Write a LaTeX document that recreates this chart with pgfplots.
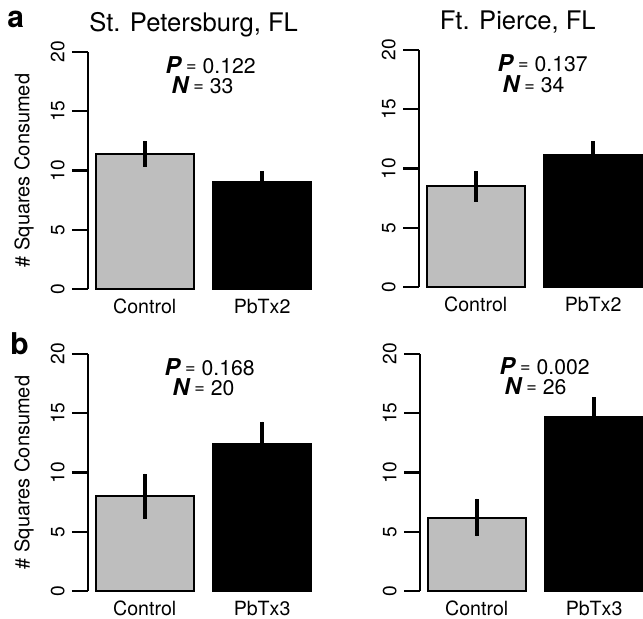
\documentclass[border=0pt]{standalone}
\usepackage{fontspec}
\setmainfont{TeX Gyre Heros}
\usepackage{pgfplots}
\pgfplotsset{compat=1.18}

\definecolor{ctrlgray}{RGB}{190,190,190}

\newcommand{\pval}[2]{{\fontsize{11.6}{12}\selectfont\bfseries\itshape #1}\hspace{2.5pt}\raisebox{0.8pt}{\fontsize{9}{9}\selectfont =}\hspace{3pt}#2}

\tikzset{
  ttl/.style={anchor=base, inner sep=0pt, font=\fontsize{12.8}{14}\selectfont},
  stat/.style={anchor=west, inner sep=0pt, font=\fontsize{10.6}{12}\selectfont},
}

\pgfplotsset{
  panel/.style={
    scale only axis, width=111.5pt, height=118.5pt,
    xmin=0.12, xmax=2.4, ymin=0, ymax=20,
    axis y line*=left, axis x line*=bottom,
    axis line style={line width=1.1pt},
    x axis line style={draw=none},
    ytick={0,5,10,15,20},
    xtick={0.7,1.9},
    tick align=outside,
    major tick length=8pt,
    ytick style={line width=1.1pt, black},
    xtick style={draw=none},
    yticklabel style={rotate=90, anchor=south, inner sep=3.5pt,
      font=\fontsize{9.6}{11}\selectfont},
    xticklabel style={font=\fontsize{9.8}{11}\selectfont, yshift=6.5pt},
    /pgf/number format/assume math mode=true,
    ylabel style={at={(axis description cs:-0.287,0.5)}, anchor=center,
      font=\fontsize{10}{12}\selectfont},
    clip=false,
    bar width=1,
  },
  ctrlbar/.style={ybar, bar shift=0pt, fill=ctrlgray, draw=black, line width=1pt,
    error bars/.cd, y dir=both, y explicit, error mark=none,
    error bar style={line width=2pt, black}},
  pbbar/.style={ybar, bar shift=0pt, fill=black, draw=black, line width=1pt,
    error bars/.cd, y dir=both, y explicit, error mark=none,
    error bar style={line width=2pt, black}},
}

\begin{document}
\begin{tikzpicture}
\path[use as bounding box] (-44pt,-14pt) rectangle (277.5pt,295.5pt);

% a: St. Petersburg
\begin{axis}[panel, at={(0pt,151pt)}, xticklabels={Control,PbTx2},
  ylabel={\# Squares Consumed}]
\addplot[ctrlbar] coordinates {(0.7,11.4) +- (0,1.1)};
\addplot[pbbar] coordinates {(1.9,9.0) +- (0,0.95)};
\node[ttl] at ([yshift=10pt]axis cs:1.2,20) {St. Petersburg, FL};
\node[stat] at (axis cs:0.91,18.9) {\pval{P}{0.122}};
\node[stat] at (axis cs:0.97,17.2) {\pval{N}{33}};
\end{axis}

% a: Ft. Pierce
\begin{axis}[panel, at={(165.5pt,152pt)}, xticklabels={Control,PbTx2}]
\addplot[ctrlbar] coordinates {(0.7,8.5) +- (0,1.3)};
\addplot[pbbar] coordinates {(1.9,11.1) +- (0,1.2)};
\node[ttl] at ([yshift=10pt]axis cs:1.13,20) {Ft. Pierce, FL};
\node[stat] at (axis cs:0.92,18.9) {\pval{P}{0.137}};
\node[stat] at (axis cs:0.97,17.1) {\pval{N}{34}};
\end{axis}

% b: St. Petersburg
\begin{axis}[panel, at={(0pt,0pt)}, xticklabels={Control,PbTx3},
  ylabel={\# Squares Consumed}]
\addplot[ctrlbar] coordinates {(0.7,8.0) +- (0,1.9)};
\addplot[pbbar] coordinates {(1.9,12.4) +- (0,1.9)};
\node[stat] at (axis cs:0.90,18.9) {\pval{P}{0.168}};
\node[stat] at (axis cs:0.98,17.2) {\pval{N}{20}};
\end{axis}

% b: Ft. Pierce
\begin{axis}[panel, at={(166pt,0pt)}, xticklabels={Control,PbTx3}]
\addplot[ctrlbar] coordinates {(0.7,6.2) +- (0,1.6)};
\addplot[pbbar] coordinates {(1.9,14.7) +- (0,1.65)};
\node[stat] at (axis cs:0.93,19.0) {\pval{P}{0.002}};
\node[stat] at (axis cs:0.98,17.3) {\pval{N}{26}};
\end{axis}

\node[anchor=base west, inner sep=0pt, font=\fontsize{15}{15}\selectfont\bfseries] at (-40.5pt,281.5pt) {a};
\node[anchor=base west, inner sep=0pt, font=\fontsize{15}{15}\selectfont\bfseries] at (-39pt,118pt) {b};
\end{tikzpicture}
\end{document}
